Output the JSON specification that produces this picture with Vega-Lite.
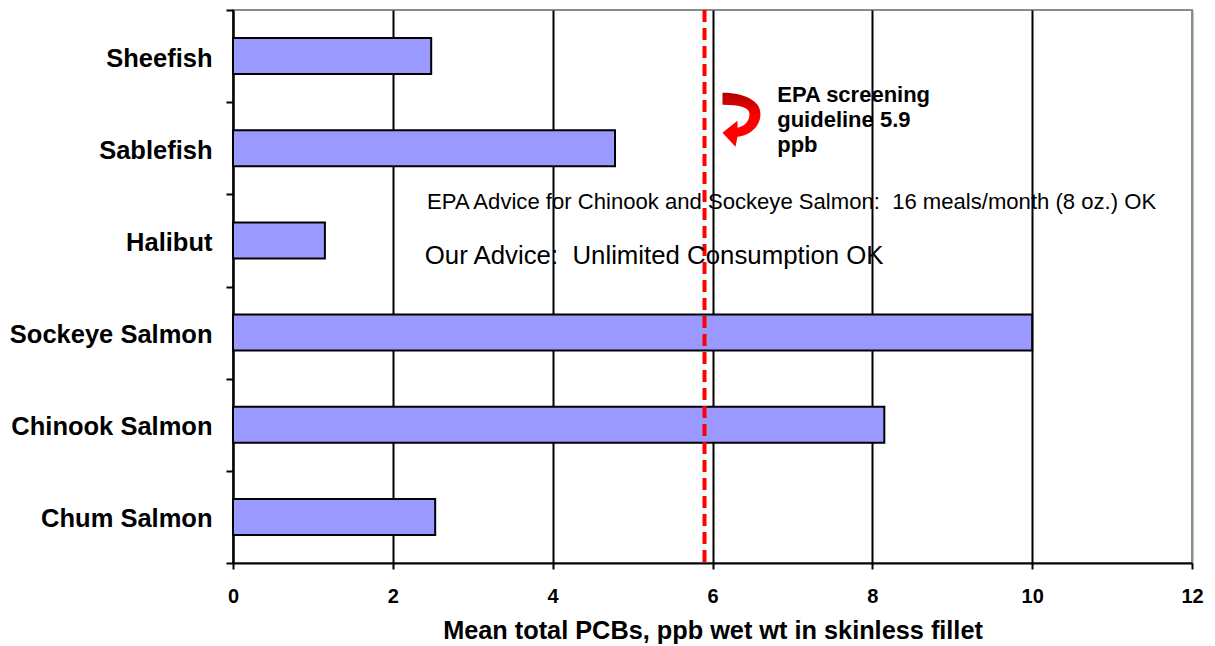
{
  "$schema": "https://vega.github.io/schema/vega-lite/v6.json",
  "width": 959,
  "height": 553,
  "autosize": "none",
  "padding": {"left": 233, "top": 10, "right": 23, "bottom": 83},
  "background": "white",
  "config": {
    "font": "Liberation Sans",
    "view": {"stroke": "#8c8c8c", "strokeWidth": 2}
  },
  "datasets": {
    "pcb": [
      {"species": "Sheefish", "pcb": 2.48},
      {"species": "Sablefish", "pcb": 4.78},
      {"species": "Halibut", "pcb": 1.15},
      {"species": "Sockeye Salmon", "pcb": 10.0},
      {"species": "Chinook Salmon", "pcb": 8.15},
      {"species": "Chum Salmon", "pcb": 2.53}
    ],
    "guideline": [
      {"measure": "EPA screening guideline", "ppb": 5.9}
    ]
  },
  "layer": [
    {
      "data": {"name": "pcb"},
      "mark": {"type": "bar", "size": 36, "fill": "#9999FF", "stroke": "black", "strokeWidth": 2},
      "encoding": {
        "y": {
          "field": "species",
          "type": "nominal",
          "sort": null,
          "scale": {"paddingInner": 0, "paddingOuter": 0},
          "axis": {
            "title": null,
            "tickBand": "extent",
            "tickSize": 7,
            "tickWidth": 2,
            "tickColor": "black",
            "domainColor": "black",
            "domainWidth": 2,
            "labelFont": "Liberation Sans",
            "labelFontSize": 25.5,
            "labelFontWeight": "bold",
            "labelColor": "black",
            "labelPadding": 14,
            "labelOffset": 2,
            "labelLimit": 400
          }
        },
        "x": {
          "field": "pcb",
          "type": "quantitative",
          "scale": {"domain": [0, 12], "nice": false},
          "axis": {
            "values": [0, 2, 4, 6, 8, 10, 12],
            "format": "d",
            "grid": true,
            "gridColor": {"condition": {"test": "datum.value === 12", "value": "#8c8c8c"}, "value": "black"},
            "gridWidth": 2,
            "domainColor": "black",
            "domainWidth": 2,
            "tickColor": "black",
            "tickWidth": 2,
            "tickSize": 6,
            "labelFont": "Liberation Sans",
            "labelFontSize": 20,
            "labelFontWeight": "bold",
            "labelColor": "black",
            "labelPadding": 17,
            "labelFlush": false,
            "labelOverlap": false,
            "title": "Mean total PCBs, ppb wet wt in skinless fillet",
            "titleFont": "Liberation Sans",
            "titleFontSize": 25.3,
            "titleFontWeight": "bold",
            "titleColor": "black",
            "titlePadding": 12
          }
        }
      }
    },
    {
      "data": {"name": "guideline"},
      "mark": {"type": "rule", "color": "#FF0000", "strokeWidth": 4, "strokeDash": [12, 6]},
      "encoding": {"x": {"field": "ppb", "type": "quantitative"}}
    },
    {
      "data": {"values": [{}]},
      "mark": {
        "type": "point",
        "filled": true,
        "opacity": 1,
        "size": 2916,
        "strokeWidth": 0,
        "shape": "M -0.667 -1 C 0.074 -1 0.741 -0.741 0.741 -0.222 C 0.741 0.296 0.296 0.593 -0.111 0.63 L -0.185 1 L -0.667 0.481 L -0.111 0.037 L -0.111 0.296 C 0.222 0.222 0.333 0 0.333 -0.222 C 0.333 -0.444 0 -0.556 -0.667 -0.556 Z",
        "fill": {
          "gradient": "linear",
          "x1": 0, "y1": 0, "x2": 0, "y2": 1,
          "stops": [
            {"offset": 0, "color": "#B00000"},
            {"offset": 0.45, "color": "#FF0000"},
            {"offset": 1, "color": "#FF0000"}
          ]
        }
      },
      "encoding": {
        "x": {"datum": 6.35},
        "y": {"datum": 1.19, "type": "quantitative", "scale": {"domain": [0, 6], "reverse": true}, "axis": null}
      }
    },
    {
      "data": {"values": [{}]},
      "mark": {
        "type": "text",
        "align": "left",
        "baseline": "alphabetic",
        "font": "Liberation Sans",
        "fontSize": 22,
        "fontWeight": "bold",
        "color": "black",
        "lineBreak": "\n",
        "lineHeight": 25
      },
      "encoding": {
        "x": {"datum": 6.81},
        "y": {"datum": 1.0, "type": "quantitative", "scale": {"domain": [0, 6], "reverse": true}, "axis": null},
        "text": {"value": "EPA screening\nguideline 5.9\nppb"}
      }
    },
    {
      "data": {"values": [{}]},
      "mark": {
        "type": "text",
        "align": "center",
        "baseline": "alphabetic",
        "font": "Liberation Sans",
        "fontSize": 22.1,
        "color": "black"
      },
      "encoding": {
        "x": {"datum": 6.99},
        "y": {"datum": 2.16, "type": "quantitative", "scale": {"domain": [0, 6], "reverse": true}, "axis": null},
        "text": {"value": "EPA Advice for Chinook and Sockeye Salmon:\u00a0 16 meals/month (8 oz.) OK"}
      }
    },
    {
      "data": {"values": [{}]},
      "mark": {
        "type": "text",
        "align": "center",
        "baseline": "alphabetic",
        "font": "Liberation Sans",
        "fontSize": 25.8,
        "color": "black"
      },
      "encoding": {
        "x": {"datum": 5.27},
        "y": {"datum": 2.76, "type": "quantitative", "scale": {"domain": [0, 6], "reverse": true}, "axis": null},
        "text": {"value": "Our Advice:\u00a0 Unlimited Consumption OK"}
      }
    }
  ],
  "resolve": {"scale": {"y": "independent"}}
}
